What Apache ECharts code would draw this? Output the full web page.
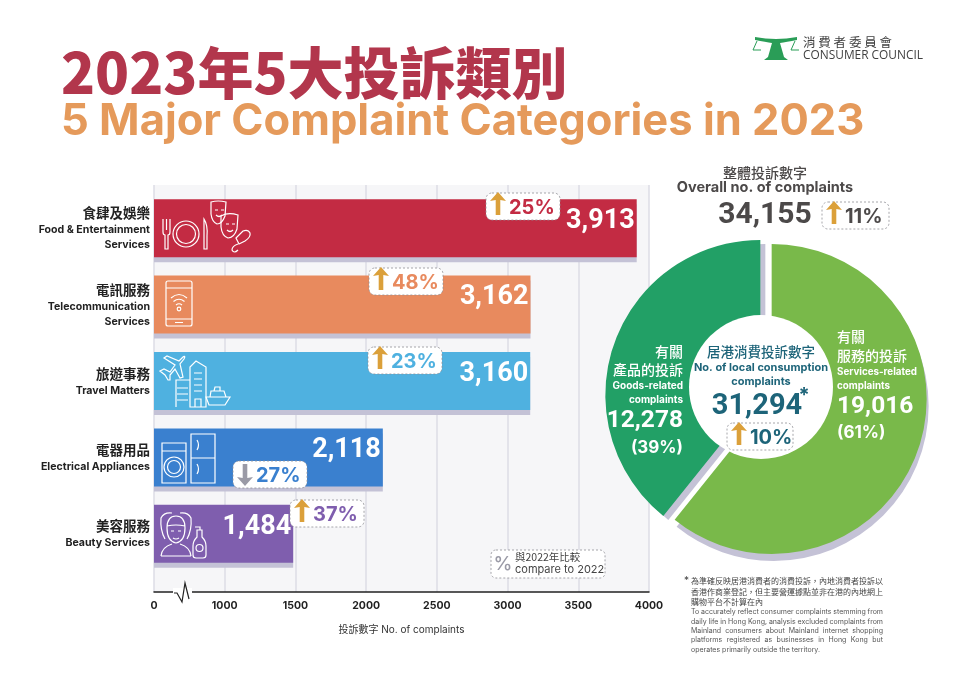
<!DOCTYPE html>
<html lang="zh-Hant" style="height: 100%">
<head>
    <meta charset="UTF-8">
    <title>2023年5大投訴類別</title>
    <script src="https://cdn.jsdelivr.net/npm/echarts@6/dist/echarts.min.js"></script>
</head>
<body style="height: 100%; margin: 0; background: #fff">
<div id="container" style="width: 960px; height: 679px"></div>
<script type="text/javascript">
    var categoriesZh = ['食肆及娛樂', '電訊服務', '旅遊事務', '電器用品', '美容服務'];
    var categoriesEn = ['Food & Entertainment\nServices', 'Telecommunication\nServices', 'Travel Matters', 'Electrical Appliances', 'Beauty Services'];
    var complaints = [3913, 3162, 3160, 2118, 1484];
    var changePct = [25, 48, 23, -27, 37];
    var barColors = ['#c32b43', '#e88a5e', '#4fb1e0', '#3a80cf', '#7f5eae'];
    var tickValues = ['0', '1000', '1500', '2000', '2500', '3000', '3500', '4000'];

    var overallTotal = 34155;
    var overallChange = 11;
    var localTotal = 31294;
    var localChange = 10;
    var serviceComplaints = 19016;
    var goodsComplaints = 12278;
    var servicePct = 61;
    var goodsPct = 39;

    var noteZh = ['為準確反映居港消費者的消費投訴，內地消費者投訴以', '香港作商業登記，但主要營運據點並非在港的內地網上', '購物平台不計算在內'];
    var noteEn = ['To accurately reflect consumer complaints stemming from', 'daily life in Hong Kong, analysis excluded complaints from', 'Mainland consumers about Mainland internet shopping', 'platforms registered as businesses in Hong Kong but', 'operates primarily outside the territory.'];

    var CJK = '"Noto Sans CJK TC"';
    var LATIN = 'Inter, "Noto Sans"';
    var NUM = 'Roboto';
    var ARROW_UP = '#dba03a';
    var ARROW_DOWN = '#9a9aa6';
    var TEAL = '#1d6479';
    var DARK = '#4c4949';

    function fmt(n) {
        return n.toLocaleString('en-US');
    }

    function txt(x, y, text, font, fill, align) {
        return {
            type: 'text',
            style: { x: x, y: y, text: text, font: font, fill: fill, align: align || 'left', verticalAlign: 'middle' }
        };
    }

    function icon(d, width) {
        return {
            type: 'path',
            shape: { pathData: d },
            style: { fill: 'none', stroke: '#fff', lineWidth: width || 1.2 }
        };
    }

    function ring(cx, cy, r) {
        return {
            type: 'circle',
            shape: { cx: cx, cy: cy, r: r },
            style: { fill: 'none', stroke: '#fff', lineWidth: 1.2 }
        };
    }

    // dashed white badge with the up/down arrow
    function badge(x, y, w, h, pct, color) {
        var up = pct > 0;
        var ax = x + 12;
        var top = up ? y - 1 : y + 3;
        var bot = up ? y + h - 5 : y + h - 2;
        var d = up
            ? 'M' + ax + ' ' + top + 'L' + (ax + 8) + ' ' + (top + 9) + 'L' + (ax + 2.3) + ' ' + (top + 8) + 'L' + (ax + 2.3) + ' ' + bot + 'L' + (ax - 2.3) + ' ' + bot + 'L' + (ax - 2.3) + ' ' + (top + 8) + 'L' + (ax - 8) + ' ' + (top + 9) + 'Z'
            : 'M' + ax + ' ' + bot + 'L' + (ax + 8) + ' ' + (bot - 9) + 'L' + (ax + 2.3) + ' ' + (bot - 8) + 'L' + (ax + 2.3) + ' ' + top + 'L' + (ax - 2.3) + ' ' + top + 'L' + (ax - 2.3) + ' ' + (bot - 8) + 'L' + (ax - 8) + ' ' + (bot - 9) + 'Z';
        return [
            {
                type: 'rect',
                shape: { x: x, y: y, width: w, height: h, r: 6 },
                style: { fill: '#fff', stroke: '#8f8f96', lineWidth: 0.8, lineDash: [2, 2] }
            },
            {
                type: 'path',
                shape: { pathData: d },
                style: { fill: up ? ARROW_UP : ARROW_DOWN }
            },
            txt(x + 23, y + h / 2 + 1, Math.abs(pct) + '%', '700 20px ' + LATIN, color)
        ];
    }

    // spreads the words of one line so it fills the width, like the printed note
    var measure = document.createElement('canvas').getContext('2d');
    function justified(x, y, width, line, font, fill) {
        measure.font = font;
        var words = line.split(' ');
        var used = 0;
        words.forEach(function (w) {
            used += measure.measureText(w).width;
        });
        var gap = (width - used) / (words.length - 1);
        var pos = x;
        return words.map(function (w) {
            var t = txt(pos, y, w, font, fill);
            pos += measure.measureText(w).width + gap;
            return t;
        });
    }

    var graphics = [
        // titles
        txt(61, 73, '2023年5大投訴類別', '900 56px ' + CJK, '#b2364c'),
        txt(61, 122, '5 Major Complaint Categories in 2023', '700 43.5px ' + LATIN, '#e59a5b'),
        // logo
        {
            type: 'path',
            shape: { pathData: 'M755 37Q776 41 797 37L797 40Q786 42 780 43L784 57L788 60L764 60L768 57L772 43Q766 42 755 40Z' },
            style: { fill: '#2a9d57' }
        },
        {
            type: 'path',
            shape: { pathData: 'M757 41L753 50L761 50M795 41L791 50L799 50' },
            style: { fill: 'none', stroke: '#2a9d57', lineWidth: 1 }
        },
        txt(803, 42, '消 費 者 委 員 會', '400 12.5px ' + CJK, '#3f3f3f'),
        txt(803, 56, 'CONSUMER COUNCIL', '400 11.9px "Open Sans"', '#3f3f3f'),
        // overall
        txt(765, 173, '整體投訴數字', '500 14px ' + CJK, DARK, 'center'),
        txt(765, 188, 'Overall no. of complaints', '700 14.5px ' + LATIN, DARK, 'center'),
        txt(765, 215, fmt(overallTotal), '700 30px ' + NUM, DARK, 'center'),
        // inner circle
        txt(761, 352, '居港消費投訴數字', '500 13.5px ' + CJK, TEAL, 'center'),
        txt(761, 368, 'No. of local consumption', '700 11px ' + LATIN, TEAL, 'center'),
        txt(761, 382, 'complaints', '700 11px ' + LATIN, TEAL, 'center'),
        txt(757, 407, fmt(localTotal), '700 29px ' + NUM, TEAL, 'center'),
        txt(804, 396, '*', '700 20px ' + LATIN, TEAL, 'center'),
        // goods slice
        txt(683, 352, '有關', '500 14px ' + CJK, '#fff', 'right'),
        txt(683, 370, '產品的投訴', '500 14px ' + CJK, '#fff', 'right'),
        txt(683, 386, 'Goods-related', '700 10px ' + LATIN, '#fff', 'right'),
        txt(683, 400, 'complaints', '700 10px ' + LATIN, '#fff', 'right'),
        txt(683, 421, fmt(goodsComplaints), '700 24.5px ' + NUM, '#fff', 'right'),
        txt(683, 448, '(' + goodsPct + '%)', '700 17px ' + LATIN, '#fff', 'right'),
        // services slice
        txt(837, 337, '有關', '500 14px ' + CJK, '#fff'),
        txt(837, 356, '服務的投訴', '500 14px ' + CJK, '#fff'),
        txt(837, 372, 'Services-related', '700 9.8px ' + LATIN, '#fff'),
        txt(837, 386, 'complaints', '700 9.8px ' + LATIN, '#fff'),
        txt(837, 407, fmt(serviceComplaints), '700 24.5px ' + NUM, '#fff'),
        txt(837, 433, '(' + servicePct + '%)', '700 17px ' + LATIN, '#fff'),
        // legend
        {
            type: 'rect',
            shape: { x: 491, y: 550, width: 114, height: 28, r: 5 },
            style: { fill: '#fff', stroke: '#8f8f96', lineWidth: 0.8, lineDash: [2, 2] }
        },
        txt(503, 564, '%', '500 19px ' + LATIN, '#9a9aa6', 'center'),
        txt(515, 557, '與2022年比較', '400 10.5px ' + CJK, '#444'),
        txt(515, 570, 'compare to 2022', '400 11px ' + LATIN, '#444'),
        // axis break
        { type: 'rect', shape: { x: 173, y: 588, width: 19, height: 9 }, style: { fill: '#fff' } },
        {
            type: 'path',
            shape: { pathData: 'M174 593L177 593L182 602L185 583L189 599' },
            style: { fill: 'none', stroke: '#222', lineWidth: 1.2 }
        },
        // footnote star
        txt(684, 581, '*', '400 10px ' + LATIN, '#444'),
        // food icon
        icon('M163 219L163 232Q163 235 165 235L165 249L168 249L168 235Q170 235 170 232L170 219M166.5 219L166.5 230'),
        ring(186, 234, 13),
        ring(186, 234, 9.5),
        icon('M204 219Q208 225 207 236L207 249L204 249Z'),
        icon('M211 202Q218 200 226 202L225 216Q222 224 217 224Q212 222 211 214ZM215 210L218 210M221 210L224 210M216 215Q219 218 222 215'),
        icon('M221 216Q228 212 238 215L237 229Q234 238 228 238Q222 236 221 227ZM226 224L229 224M232 224L235 224M227 230Q230 233 233 230'),
        icon('M236 238L243 231Q248 229 250 233Q251 237 245 241L239 244ZM238 244Q232 246 232 250Q234 254 238 250'),
        // phone icon
        icon('M168 281L190 281Q192 281 192 283L192 324Q192 326 190 326L168 326Q166 326 166 324L166 283Q166 281 168 281ZM166 288L192 288M166 319L192 319M175 322.5L183 322.5'),
        icon('M171 298Q179 291 187 298M173.5 301.5Q179 297 184.5 301.5M176 305Q179 302.5 182 305'),
        ring(179, 309, 1.8),
        // travel icon
        icon('M160 371L164 369L170 372L175 365L164 358L167 356L179 361L183 357Q186 355 184 359L180 364L183 377L180 378L175 369L170 375L170 380L168 380L165 375Z'),
        icon('M190 407L190 367L196 361L206 367L206 407ZM176 407L176 380L190 380M177 388L188 388M177 394L188 394M177 400L188 400M195 407L195 399L201 399L201 407M194 373L202 373M194 379L202 379M194 385L202 385M194 391L202 391'),
        icon('M206 397L230 397L225 405L209 405ZM210 397L211 391L224 391L226 397M214 391L215 387L220 387L220 391'),
        // appliance icon
        icon('M162 443L186 443L186 483L162 483ZM162 451L186 451'),
        ring(174, 467, 10),
        ring(174, 467, 6.5),
        icon('M191 434L215 434L215 483L191 483ZM191 458L215 458M197 440Q200 445 197 450M197 464Q200 469 197 474'),
        // beauty icon
        icon('M176 516Q185 516 185 528Q185 541 176 543Q167 541 167 528Q167 516 176 516ZM167 526Q176 524 185 526'),
        icon('M172 513Q164 512 161 518Q160 530 165 539M180 513Q188 512 191 518Q192 530 187 539'),
        icon('M161 556Q162 547 172 544M191 556Q190 547 180 544M161 556L191 556'),
        icon('M171 531L174 531M178 531L181 531M173 538Q176 540 179 538'),
        icon('M197 537L197 530L202 530L202 537Q206 541 206 546L206 555Q206 558 203 558L196 558Q193 558 193 555L193 546Q193 541 197 537ZM200 530L200 527L195 527'),
        ring(199.5, 548, 3.5)
    ];

    var badgePos = [[486, 193], [369, 268], [368, 347], [233, 461], [290, 500]];
    changePct.forEach(function (p, i) {
        graphics = graphics.concat(badge(badgePos[i][0], badgePos[i][1], 74, 27, p, barColors[i]));
    });
    graphics = graphics.concat(badge(822, 202, 67, 27, overallChange, DARK));
    graphics = graphics.concat(badge(727, 423, 66, 27, localChange, TEAL));

    noteZh.forEach(function (line, i) {
        graphics.push(txt(691, 581 + i * 10.5, line, '400 8px ' + CJK, '#444'));
    });
    noteEn.forEach(function (line, i) {
        var font = '400 7px ' + LATIN;
        var y = 612 + i * 9.4;
        if (i < noteEn.length - 1) {
            graphics = graphics.concat(justified(691, y, 192, line, font, '#555'));
        } else {
            graphics.push(txt(691, y, line, font, '#555'));
        }
    });

    var myChart = echarts.init(document.getElementById('container'));

    var option = {
        backgroundColor: '#fff',
        animation: false,
        grid: [
            // bars
            { left: 154, right: 311, top: 190, bottom: 107 },
            // backdrop and axis, runs past the last bar down to the axis line
            { left: 154, right: 311, top: 185, bottom: 87, show: true, backgroundColor: '#f6f6f8', borderWidth: 0 }
        ],
        xAxis: [
            { gridIndex: 0, type: 'value', min: 500, max: 4000, interval: 500, show: false },
            {
                gridIndex: 1,
                type: 'value',
                min: 500,
                max: 4000,
                interval: 500,
                name: '投訴數字 No. of complaints',
                nameLocation: 'middle',
                nameGap: 33,
                nameTextStyle: { fontFamily: 'Inter, ' + CJK, fontSize: 10, color: '#333' },
                axisLine: { show: true, onZero: false, lineStyle: { color: '#222', width: 1.5 } },
                axisTick: { show: false },
                axisLabel: {
                    margin: 8,
                    fontFamily: 'Inter',
                    fontWeight: 700,
                    fontSize: 10.5,
                    color: '#222',
                    showMinLabel: true,
                    showMaxLabel: true,
                    formatter: function (v) {
                        // first tick sits after the axis break and reads 0
                        return tickValues[Math.round(v / 500) - 1];
                    }
                },
                splitLine: { show: true, lineStyle: { color: '#dcdce6', width: 1.5 } }
            }
        ],
        yAxis: [
            {
                gridIndex: 0,
                type: 'category',
                inverse: true,
                data: categoriesZh.map(function (zh, i) {
                    return zh + '\n' + categoriesEn[i];
                }),
                axisLine: { show: false },
                axisTick: { show: false },
                axisLabel: {
                    margin: 4,
                    interval: 0,
                    align: 'right',
                    formatter: function (v) {
                        var lines = v.split('\n');
                        var out = ['{zh|' + lines[0] + '}'];
                        for (var i = 1; i < lines.length; i++) {
                            out.push('{en|' + lines[i] + '}');
                        }
                        return out.join('\n');
                    },
                    rich: {
                        zh: { fontFamily: CJK, fontWeight: 700, fontSize: 13.5, color: '#222', lineHeight: 19, align: 'right' },
                        en: { fontFamily: 'Inter', fontWeight: 700, fontSize: 10.6, color: '#222', lineHeight: 15, align: 'right' }
                    }
                }
            },
            { gridIndex: 1, type: 'value', show: false }
        ],
        series: [
            {
                type: 'bar',
                xAxisIndex: 0,
                yAxisIndex: 0,
                barWidth: 58,
                data: complaints.map(function (v, i) {
                    return { value: v, itemStyle: { color: barColors[i] } };
                }),
                itemStyle: { shadowColor: '#c4c2d6', shadowBlur: 0, shadowOffsetY: 5 },
                label: {
                    show: true,
                    position: 'insideRight',
                    offset: [3, -7],
                    distance: 5,
                    fontFamily: NUM,
                    fontWeight: 700,
                    fontSize: 27,
                    color: '#fff',
                    formatter: function (p) {
                        return fmt(p.value);
                    }
                }
            },
            {
                type: 'pie',
                center: [766, 397],
                radius: [0, 155],
                startAngle: 90,
                clockwise: true,
                selectedMode: 'multiple',
                selectedOffset: 6,
                silent: true,
                label: { show: false },
                labelLine: { show: false },
                data: [
                    {
                        name: 'Services',
                        value: serviceComplaints,
                        selected: true,
                        itemStyle: { color: '#79b94a', shadowColor: '#c4c2d6', shadowBlur: 0, shadowOffsetX: 2, shadowOffsetY: 7 }
                    },
                    {
                        name: 'Goods',
                        value: goodsComplaints,
                        selected: true,
                        itemStyle: { color: '#22a066', shadowColor: '#c4c2d6', shadowBlur: 0, shadowOffsetX: 5, shadowOffsetY: 4 }
                    }
                ]
            },
            {
                // white disc holding the local total
                type: 'pie',
                center: [761, 387],
                radius: [0, 72],
                z: 5,
                silent: true,
                label: { show: false },
                labelLine: { show: false },
                itemStyle: { color: '#fff' },
                data: [{ name: 'Local', value: localTotal }]
            },
            {
                // titles, icons, badges and notes on top of everything
                type: 'custom',
                coordinateSystem: 'none',
                z: 10,
                silent: true,
                data: [0],
                renderItem: function () {
                    return { type: 'group', children: graphics };
                }
            }
        ]
    };

    myChart.setOption(option);
</script>
</body>
</html>
